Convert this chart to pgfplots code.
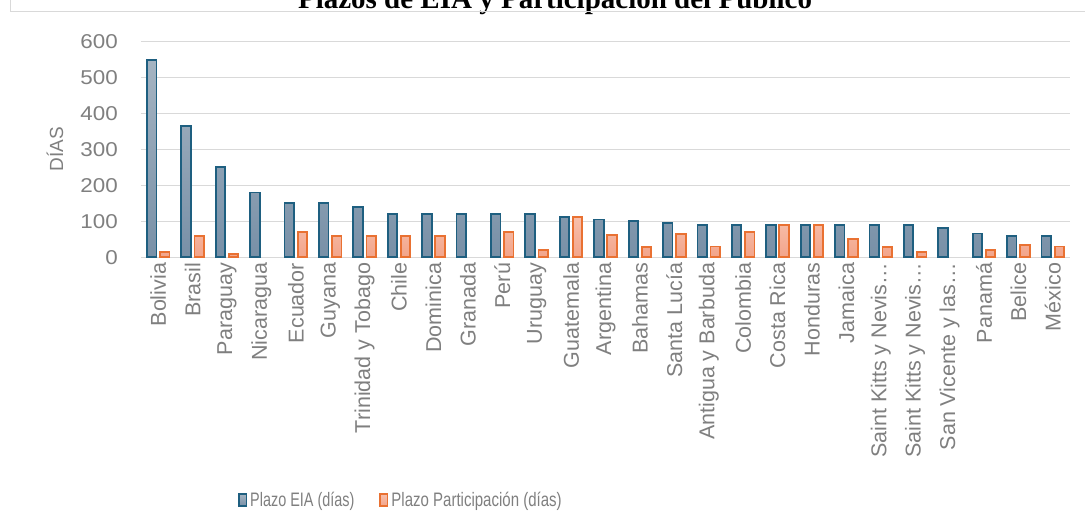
\documentclass[border=0pt]{standalone}
\usepackage{fontspec}
\setmainfont{Liberation Sans}
\newfontfamily\titlefont{Liberation Serif}
\usepackage{graphicx}
\usepackage{pgfplots}
\pgfplotsset{compat=1.18}
\definecolor{eiaBorder}{HTML}{1E5F80}
\definecolor{eiaTop}{HTML}{A5B4C2}
\definecolor{eiaBot}{HTML}{7890A7}
\definecolor{parBorder}{HTML}{E97132}
\definecolor{parTop}{HTML}{F8C0AC}
\definecolor{parBot}{HTML}{F2A48A}
\definecolor{gridc}{HTML}{D9D9D9}
\definecolor{txt}{HTML}{7F7F7F}

\pgfplotstableread{
x eia
0 547
1 365
2 250
3 180
4 150
5 150
6 140
7 120
8 120
9 120
10 120
11 120
12 113
13 105
14 100
15 95
16 90
17 90
18 90
19 90
20 90
21 90
22 90
23 82
24 66
25 60
26 60
}\eiatable

\pgfplotstableread{
x par
0 15
1 60
2 10
4 70
5 60
6 60
7 60
8 60
10 70
11 20
12 113
13 62
14 28
15 64
16 30
17 70
18 90
19 90
20 50
21 28
22 14
24 20
25 35
26 30
}\partable

\begin{document}
\begin{tikzpicture}[x=1pt,y=1pt]
\useasboundingbox (0,0) rectangle (1085,532);
\node[anchor=base, inner sep=0pt, font=\titlefont\bfseries\fontsize{29}{34}\selectfont] at (555,523.7) {Plazos de EIA y Participación del Público};
\draw[gridc, line width=1.5pt] (10.5,532) -- (10.5,520.3) -- (1085,520.3);
\begin{axis}[
  at={(141pt,274.7pt)}, anchor=south west,
  scale only axis, width=929pt, height=216pt,
  xmin=-0.5, xmax=26.5, ymin=0, ymax=600,
  ybar=3.6pt, bar width=9.5pt,
  axis line style={draw=none},
  ytick={0,100,...,600},
  ymajorgrids, grid style={gridc, line width=1.5pt},
  major tick length=0pt,
  /pgf/number format/assume math mode=true,
  yticklabel={\scalebox{1.12}[1]{\pgfmathprintnumber{\tick}}},
  yticklabel style={font=\fontsize{20}{24}\selectfont, text=txt, anchor=east, inner sep=0pt, xshift=-23pt},
  xtick={0,...,26},
  xticklabels={Bolivia,Brasil,Paraguay,Nicaragua,Ecuador,Guyana,Trinidad y Tobago,Chile,Dominica,Granada,Perú,Uruguay,Guatemala,Argentina,Bahamas,Santa Lucía,Antigua y Barbuda,Colombia,Costa Rica,Honduras,Jamaica,Saint Kitts y Nevis…,Saint Kitts y Nevis…,San Vicente y las…,Panamá,Belice,México},
  xticklabel style={rotate=90, anchor=east, font=\fontsize{21.5}{25}\selectfont, text=txt, inner xsep=5.5pt, inner ysep=0pt},
  ylabel={DÍAS},
  ylabel style={at={(axis description cs:-0.0926,0.5)}, anchor=center, font=\fontsize{19}{22}\selectfont, text=txt},
  legend columns=2,
  legend style={at={(axis description cs:0.1044,-1.1236)}, anchor=west, draw=none, fill=none, inner sep=0pt,
    font=\fontsize{19.5}{22}\selectfont, text=txt,
    nodes={inner xsep=3pt, inner ysep=1pt},
    /tikz/every even column/.append style={column sep=22pt}},
  legend image code/.code={\draw[#1, line width=1.6pt] (0.8pt,-6.2pt) rectangle (8.2pt,6.2pt);},
]
\addplot[draw=eiaBorder, line width=1.8pt, top color=eiaTop, bottom color=eiaBot] table[x=x,y=eia] {\eiatable};
\addplot[draw=parBorder, line width=1.8pt, top color=parTop, bottom color=parBot] table[x=x,y=par] {\partable};
\legend{\scalebox{0.74}[1]{Plazo EIA (días)},\scalebox{0.77}[1]{Plazo Participación (días)}}
\end{axis}
\end{tikzpicture}
\end{document}
